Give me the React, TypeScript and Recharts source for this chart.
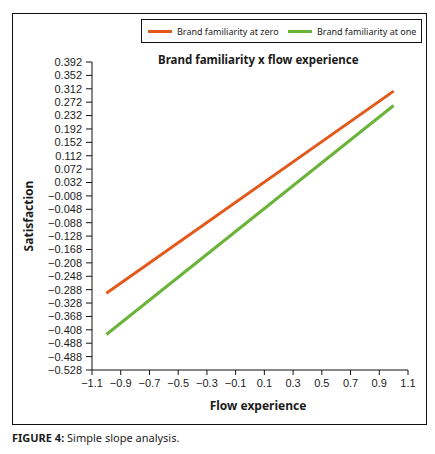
import { LineChart, Line, XAxis, YAxis, Label } from 'recharts'

const flowExperience = [-1, 1]
const familiarityZero = [-0.299, 0.305]
const familiarityOne = [-0.422, 0.262]

const yTicks = [
  0.392, 0.352, 0.312, 0.272, 0.232, 0.192, 0.152, 0.112, 0.072, 0.032, -0.008, -0.048,
  -0.088, -0.128, -0.168, -0.208, -0.248, -0.288, -0.328, -0.368, -0.408, -0.448, -0.488, -0.528,
]
// labels as printed (the figure repeats −0.488)
const yTickLabels = [
  '0.392', '0.352', '0.312', '0.272', '0.232', '0.192', '0.152', '0.112', '0.072', '0.032',
  '−0.008', '−0.048', '−0.088', '−0.128', '−0.168', '−0.208', '−0.248', '−0.288', '−0.328',
  '−0.368', '−0.408', '−0.488', '−0.488', '−0.528',
]
const xTicks = [-1.1, -0.9, -0.7, -0.5, -0.3, -0.1, 0.1, 0.3, 0.5, 0.7, 0.9, 1.1]

const series = [
  { key: 'zero', name: 'Brand familiarity at zero', color: '#E2591B' },
  { key: 'one', name: 'Brand familiarity at one', color: '#6BB43A' },
]

const data = flowExperience.map((x, i) => ({
  x,
  zero: familiarityZero[i],
  one: familiarityOne[i],
}))

const FONT = '"Noto Sans", sans-serif'
const TICK_FONT = '"Liberation Sans", Arial, sans-serif'
const INK = '#1b1b1b'

function formatX(v: number) {
  const s = Math.abs(v).toFixed(1)
  return v < 0 ? `−${s}` : s
}

function formatY(v: number) {
  const i = yTicks.indexOf(v)
  return i >= 0 ? yTickLabels[i] : String(v)
}

// legend item offsets inside the box
const legendLeft = [6, 146]

function LegendBox() {
  return (
    <div
      style={{
        position: 'absolute',
        left: 141,
        top: 19,
        width: 281,
        height: 24,
        border: '1.3px solid #111',
        boxSizing: 'border-box',
        fontFamily: FONT,
        fontSize: 9,
        color: INK,
      }}
    >
      {series.map((s, i) => (
        <div
          key={s.key}
          style={{
            position: 'absolute',
            left: legendLeft[i],
            top: 0,
            height: 22,
            display: 'flex',
            alignItems: 'center',
            whiteSpace: 'nowrap',
          }}
        >
          <span style={{ display: 'inline-block', width: 24, height: 3, background: s.color }} />
          <span style={{ marginLeft: 5 }}>{s.name}</span>
        </div>
      ))}
    </div>
  )
}

export default function App() {
  return (
    <div style={{ position: 'absolute', left: 0, top: 0, width: 435, height: 454, background: '#fff' }}>
      <div
        style={{
          position: 'absolute',
          left: 12,
          top: 13,
          width: 415,
          height: 412,
          border: '1.5px solid #111',
          boxSizing: 'border-box',
        }}
      />
      <LegendBox />
      <div
        style={{
          position: 'absolute',
          left: 158,
          top: 52,
          width: 200,
          textAlign: 'center',
          fontFamily: FONT,
          fontWeight: 700,
          fontSize: 11.5,
          color: INK,
          whiteSpace: 'nowrap',
        }}
      >
        Brand familiarity x flow experience
      </div>
      <div style={{ position: 'absolute', left: 0, top: 0 }}>
        <LineChart width={435} height={454} data={data} margin={{ top: 62, right: 27, bottom: 0, left: 0 }}>
          <XAxis
            dataKey="x"
            type="number"
            domain={[-1.1, 1.1]}
            ticks={xTicks}
            tickFormatter={formatX}
            interval={0}
            height={84}
            stroke="#111"
            tickSize={5}
            tickMargin={4}
            tick={{ fill: INK, fontSize: 11, fontFamily: TICK_FONT }}
          >
            <Label
              value="Flow experience"
              position="insideTop"
              offset={31}
              dx={8}
              style={{ fill: INK, fontSize: 12, fontWeight: 700, fontFamily: FONT }}
            />
          </XAxis>
          <YAxis
            type="number"
            domain={[-0.528, 0.392]}
            ticks={yTicks}
            tickFormatter={formatY}
            interval={0}
            width={92}
            stroke="#111"
            tickSize={6}
            tickMargin={4}
            tick={{ fill: INK, fontSize: 11, fontFamily: TICK_FONT }}
          >
            <Label
              value="Satisfaction"
              angle={-90}
              position="insideLeft"
              offset={29}
              style={{ fill: INK, fontSize: 12, fontWeight: 700, fontFamily: FONT, textAnchor: 'middle' }}
            />
          </YAxis>
          {series.map((s) => (
            <Line
              key={s.key}
              dataKey={s.key}
              name={s.name}
              stroke={s.color}
              strokeWidth={3}
              dot={false}
              activeDot={false}
              isAnimationActive={false}
            />
          ))}
        </LineChart>
      </div>
      <div
        style={{
          position: 'absolute',
          left: 12,
          top: 430,
          fontFamily: FONT,
          fontSize: 11,
          color: INK,
          whiteSpace: 'nowrap',
        }}
      >
        <b>FIGURE 4:</b> Simple slope analysis.
      </div>
    </div>
  )
}
